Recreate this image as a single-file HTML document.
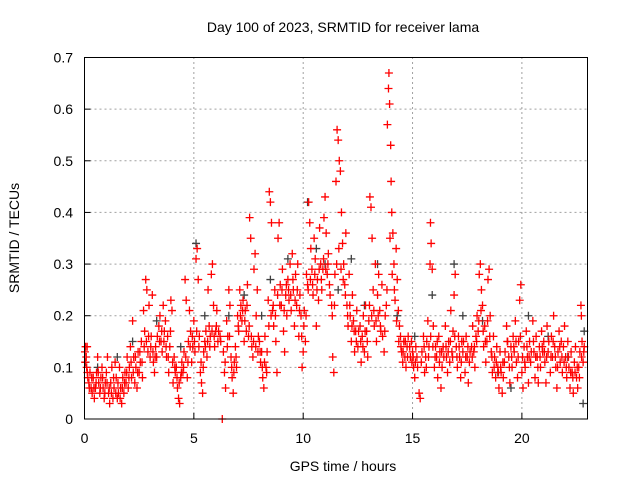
<!DOCTYPE html>
<html><head><meta charset="utf-8"><style>
body{margin:0;background:#fff;width:640px;height:480px;overflow:hidden}
svg{font-family:"Liberation Sans",sans-serif;font-size:14px}
</style></head><body>
<svg id="chart" width="640" height="480">
<text x="343" y="32" text-anchor="middle">Day 100 of 2023, SRMTID for receiver lama</text>
<text x="343" y="471" text-anchor="middle">GPS time / hours</text>
<text transform="translate(19,238) rotate(-90)" text-anchor="middle">SRMTID / TECUs</text>
<g id="grid"></g><g id="axes"></g><g id="marks"></g>
<rect x="84.5" y="57.5" width="503" height="361.5" fill="none" stroke="#000"/>
</svg>
<script>
const xTicks=[0,5,10,15,20];
const yTicks=[0,0.1,0.2,0.3,0.4,0.5,0.6,0.7];
const yTickLabels=["0","0.1","0.2","0.3","0.4","0.5","0.6","0.7"];
const redPts=[[0.02,.13],[0.05,.14],[0.08,.12],[0.1,.10],[0.12,.14],[0.15,.08],[0.2,.07],[0.25,.09],[0.3,.06],[0.35,.05],[0.4,.08],[0.45,.04],[0.5,.06],[0.55,.09],[0.6,.12],[0.65,.07],[0.7,.05],[0.75,.08],[0.8,.10],[0.85,.06],[0.9,.04],[0.95,.07],
[1.0,.09],[1.05,.12],[1.1,.05],[1.15,.03],[1.2,.07],[1.25,.10],[1.3,.04],[1.35,.06],[1.4,.11],[1.45,.08],[1.5,.04],[1.55,.05],[1.6,.10],[1.65,.06],[1.7,.03],[1.75,.08],[1.8,.05],[1.85,.09],[1.9,.07],[1.95,.12],
[2.0,.06],[2.05,.10],[2.1,.14],[2.15,.08],[2.2,.19],[2.25,.12],[2.3,.07],[2.35,.10],[2.4,.06],[2.45,.13],[2.5,.09],[2.55,.11],[2.6,.15],[2.65,.08],[2.7,.21],[2.75,.17],[2.8,.27],[2.85,.25],[2.9,.13],[2.95,.22],
[3.0,.12],[3.05,.16],[3.1,.24],[3.15,.11],[3.2,.09],[3.25,.14],[3.3,.12],[3.4,.18],[3.45,.20],[3.5,.15],[3.55,.13],[3.6,.22],[3.65,.17],[3.7,.19],[3.75,.12],[3.8,.16],[3.85,.09],[3.9,.14],[3.95,.23],
[4.0,.21],[4.05,.07],[4.1,.12],[4.15,.09],[4.2,.10],[4.25,.06],[4.3,.04],[4.35,.03],[4.4,.08],[4.45,.11],[4.5,.09],[4.55,.13],[4.6,.27],[4.65,.23],[4.7,.08],[4.75,.15],[4.8,.21],[4.85,.17],[4.9,.11],[4.95,.14],
[5.0,.19],[5.05,.13],[5.1,.31],[5.15,.33],[5.2,.27],[5.25,.16],[5.3,.09],[5.35,.07],[5.4,.05],[5.45,.13],[5.5,.15],[5.55,.17],[5.6,.12],[5.65,.25],[5.7,.18],[5.75,.16],[5.8,.28],[5.85,.30],[5.9,.22],[5.95,.14],
[6.0,.17],[6.05,.21],[6.1,.15],[6.2,.16],[6.3,.00],[6.35,.13],[6.4,.09],[6.45,.06],[6.5,.19],[6.55,.16],[6.6,.25],[6.65,.22],[6.7,.12],[6.75,.08],[6.8,.05],[6.85,.11],[6.9,.14],[6.95,.10],
[7.0,.20],[7.05,.17],[7.1,.25],[7.15,.22],[7.2,.19],[7.25,.23],[7.3,.15],[7.35,.21],[7.4,.17],[7.45,.26],[7.5,.16],[7.55,.39],[7.6,.35],[7.65,.14],[7.7,.12],[7.75,.29],[7.8,.32],[7.85,.20],[7.9,.25],[7.95,.16],
[8.0,.15],[8.05,.11],[8.1,.13],[8.15,.08],[8.2,.06],[8.25,.16],[8.3,.10],[8.35,.13],[8.4,.23],[8.45,.44],[8.5,.42],[8.55,.38],[8.6,.21],[8.65,.18],[8.7,.25],[8.75,.15],[8.8,.09],[8.85,.35],[8.9,.38],[8.95,.26],
[9.0,.22],[9.05,.29],[9.1,.17],[9.15,.13],[9.2,.24],[9.25,.20],[9.3,.27],[9.35,.23],[9.4,.30],[9.45,.21],[9.5,.32],[9.55,.25],[9.6,.18],[9.65,.28],[9.7,.22],[9.75,.30],[9.8,.16],[9.85,.24],[9.9,.20],[9.95,.10],
[10.0,.13],[10.05,.21],[10.1,.15],[10.15,.28],[10.2,.26],[10.25,.42],[10.3,.38],[10.35,.33],[10.4,.29],[10.45,.24],[10.5,.35],[10.55,.31],[10.6,.18],[10.65,.27],[10.7,.23],[10.75,.37],[10.8,.30],[10.85,.25],[10.9,.29],[10.95,.39],
[11.0,.43],[11.05,.36],[11.1,.28],[11.15,.32],[11.2,.26],[11.3,.22],[11.35,.12],[11.4,.09],[11.45,.28],[11.5,.46],[11.55,.56],[11.6,.54],[11.65,.50],[11.7,.48],[11.75,.40],[11.8,.34],[11.85,.30],[11.9,.26],[11.95,.36],
[12.0,.22],[12.05,.18],[12.1,.28],[12.15,.20],[12.2,.15],[12.25,.24],[12.3,.19],[12.35,.13],[12.4,.17],[12.45,.21],[12.5,.14],[12.6,.18],[12.65,.11],[12.7,.16],[12.75,.20],[12.8,.13],[12.85,.22],[12.9,.17],[12.95,.12],
[13.0,.19],[13.05,.43],[13.1,.41],[13.15,.35],[13.2,.25],[13.25,.18],[13.3,.30],[13.35,.15],[13.4,.24],[13.45,.28],[13.5,.21],[13.55,.17],[13.6,.26],[13.7,.13],[13.75,.20],[13.8,.22],[13.85,.57],[13.9,.64],[13.92,.67],[13.95,.61],
[14.0,.53],[14.02,.46],[14.05,.40],[14.1,.36],[14.15,.30],[14.2,.23],[14.25,.33],[14.3,.27],[14.35,.21],[14.4,.18],[14.45,.16],[14.5,.13],[14.55,.11],[14.6,.15],[14.65,.12],[14.7,.10],[14.75,.14],[14.8,.16],[14.9,.12],[14.95,.15],
[15.0,.13],[15.05,.10],[15.1,.08],[15.15,.14],[15.2,.12],[15.3,.05],[15.35,.04],[15.4,.11],[15.5,.16],[15.55,.09],[15.6,.12],[15.65,.15],[15.7,.19],[15.75,.14],[15.8,.30],[15.82,.38],[15.85,.34],[15.9,.29],[15.95,.18],
[16.0,.10],[16.05,.14],[16.1,.12],[16.15,.08],[16.2,.16],[16.25,.13],[16.3,.06],[16.35,.10],[16.4,.14],[16.5,.18],[16.55,.12],[16.6,.09],[16.65,.15],[16.7,.11],[16.75,.21],[16.8,.13],[16.85,.17],[16.9,.24],[16.95,.28],
[17.0,.14],[17.05,.10],[17.1,.16],[17.15,.12],[17.2,.08],[17.25,.15],[17.3,.13],[17.4,.09],[17.45,.16],[17.5,.12],[17.55,.07],[17.6,.11],[17.7,.14],[17.75,.18],[17.8,.13],[17.85,.10],[17.9,.16],[17.95,.20],
[18.0,.17],[18.05,.28],[18.1,.30],[18.15,.25],[18.2,.22],[18.25,.14],[18.3,.18],[18.35,.11],[18.4,.15],[18.45,.27],[18.5,.29],[18.55,.20],[18.6,.13],[18.65,.09],[18.7,.16],[18.75,.12],[18.8,.08],[18.85,.14],[18.9,.10],[18.95,.06],
[19.0,.13],[19.05,.09],[19.1,.05],[19.15,.08],[19.2,.11],[19.3,.18],[19.35,.15],[19.4,.12],[19.45,.07],[19.5,.14],[19.55,.10],[19.6,.16],[19.65,.13],[19.7,.19],[19.75,.11],[19.8,.08],[19.85,.15],[19.9,.23],[19.95,.26],
[20.0,.09],[20.05,.06],[20.1,.14],[20.15,.10],[20.2,.17],[20.25,.12],[20.3,.07],[20.35,.15],[20.4,.11],[20.5,.19],[20.55,.13],[20.6,.08],[20.65,.16],[20.7,.12],[20.75,.07],[20.8,.14],[20.85,.10],[20.9,.17],[20.95,.13],
[21.0,.15],[21.05,.11],[21.1,.07],[21.15,.18],[21.2,.13],[21.3,.09],[21.35,.16],[21.4,.12],[21.45,.20],[21.5,.14],[21.55,.10],[21.6,.06],[21.65,.13],[21.7,.17],[21.75,.11],[21.8,.15],[21.85,.09],[21.9,.14],[21.95,.18],
[22.0,.12],[22.05,.08],[22.1,.15],[22.15,.10],[22.2,.06],[22.25,.13],[22.3,.09],[22.35,.05],[22.4,.11],[22.45,.14],[22.5,.08],[22.55,.06],[22.6,.10],[22.65,.13],[22.7,.22],[22.72,.20],[22.75,.15],[22.8,.11],[22.85,.14]];
const redPts2=[[0.03,.11],[0.13,.09],[0.22,.06],[0.33,.08],[0.43,.06],[0.53,.07],[0.63,.09],[0.73,.06],[0.83,.08],[0.93,.05],
[1.03,.07],[1.13,.06],[1.23,.05],[1.33,.08],[1.43,.05],[1.53,.07],[1.63,.04],[1.73,.06],[1.83,.07],[1.93,.09],
[2.03,.08],[2.13,.11],[2.23,.09],[2.33,.12],[2.43,.09],[2.53,.13],[2.63,.11],[2.73,.14],[2.83,.15],[2.93,.16],
[3.03,.14],[3.13,.13],[3.23,.12],[3.33,.16],[3.43,.15],[3.53,.17],[3.63,.15],[3.73,.14],[3.83,.12],[3.93,.17],
[4.03,.11],[4.13,.10],[4.23,.08],[4.33,.07],[4.43,.09],[4.53,.10],[4.63,.12],[4.73,.11],[4.83,.14],[4.93,.16],
[5.03,.15],[5.13,.17],[5.23,.14],[5.33,.11],[5.43,.10],[5.53,.14],[5.63,.15],[5.73,.14],[5.83,.17],[5.93,.16],
[6.03,.18],[6.13,.17],[6.23,.15],[6.43,.11],[6.53,.14],[6.63,.16],[6.73,.10],[6.83,.09],[6.93,.12],
[7.03,.18],[7.13,.20],[7.23,.21],[7.33,.19],[7.43,.22],[7.53,.18],[7.63,.16],[7.73,.15],[7.83,.14],[7.93,.13],
[8.03,.13],[8.13,.10],[8.23,.11],[8.33,.09],[8.43,.18],[8.53,.20],[8.63,.22],[8.73,.20],[8.83,.24],[8.93,.22],
[9.03,.25],[9.13,.21],[9.23,.26],[9.33,.25],[9.43,.24],[9.53,.27],[9.63,.23],[9.73,.25],[9.83,.21],[9.93,.16],
[10.03,.18],[10.13,.20],[10.23,.25],[10.33,.27],[10.43,.26],[10.53,.28],[10.63,.25],[10.73,.29],[10.83,.27],[10.93,.31],
[11.03,.29],[11.13,.30],[11.23,.24],[11.33,.20],[11.43,.22],[11.53,.30],[11.63,.33],[11.73,.29],[11.83,.27],[11.93,.24],
[12.03,.20],[12.13,.22],[12.23,.18],[12.33,.17],[12.43,.15],[12.53,.17],[12.63,.15],[12.73,.14],[12.83,.17],[12.93,.15],
[13.03,.22],[13.13,.20],[13.23,.21],[13.33,.19],[13.43,.20],[13.53,.18],[13.63,.16],[13.73,.17],[13.83,.25],[13.97,.35],
[14.07,.28],[14.17,.25],[14.27,.19],[14.37,.15],[14.47,.14],[14.57,.13],[14.67,.15],[14.77,.12],[14.87,.14],[14.97,.11],
[15.03,.12],[15.13,.11],[15.23,.10],[15.43,.13],[15.53,.14],[15.63,.10],[15.73,.12],[15.83,.16],[15.93,.14],
[16.03,.12],[16.13,.15],[16.23,.11],[16.33,.13],[16.43,.12],[16.53,.14],[16.63,.13],[16.73,.15],[16.83,.12],[16.93,.16],
[17.03,.12],[17.13,.14],[17.23,.11],[17.33,.15],[17.43,.12],[17.53,.14],[17.63,.13],[17.73,.12],[17.83,.14],[17.93,.15],
[18.03,.19],[18.13,.21],[18.23,.17],[18.33,.15],[18.43,.19],[18.53,.16],[18.63,.12],[18.73,.10],[18.83,.11],[18.93,.09],
[19.03,.10],[19.13,.11],[19.23,.13],[19.33,.15],[19.43,.10],[19.53,.12],[19.63,.14],[19.73,.15],[19.83,.12],[19.93,.16],
[20.03,.12],[20.13,.11],[20.23,.14],[20.33,.12],[20.43,.13],[20.53,.15],[20.63,.12],[20.73,.10],[20.83,.12],[20.93,.14],
[21.03,.13],[21.13,.12],[21.23,.15],[21.33,.12],[21.43,.15],[21.53,.12],[21.63,.10],[21.73,.14],[21.83,.12],[21.93,.11],
[22.03,.10],[22.13,.12],[22.23,.09],[22.33,.08],[22.43,.09],[22.53,.10],[22.63,.08],[22.73,.12],[22.83,.13]];
const darkPts=[[0.05,.11],[0.6,.10],[1.5,.12],[2.2,.15],[3.3,.19],[4.4,.14],[5.1,.34],[5.5,.20],[6.6,.20],[7.3,.24],[8.1,.20],[8.5,.27],[9.3,.31],[10.2,.42],[10.6,.33],[11.0,.30],[11.6,.25],[12.2,.31],[12.8,.22],[13.4,.30],[14.3,.20],[15.1,.16],[15.9,.24],[16.9,.30],[17.3,.20],[18.2,.19],[18.9,.09],[19.5,.06],[20.3,.20],[21.2,.16],[22.1,.12],[22.8,.03],[22.85,.17]];
const NS="http://www.w3.org/2000/svg";
const X0=84.5,X1=587.5,Y0=419,Y1=57.5,XMAX=23,YMAX=0.7;
const sx=v=>X0+v/XMAX*(X1-X0), sy=v=>Y0-v/YMAX*(Y0-Y1);
function mk(tag,at,parent){const e=document.createElementNS(NS,tag);for(const k in at)e.setAttribute(k,at[k]);parent.appendChild(e);return e;}
const grid=document.getElementById('grid'),axes=document.getElementById('axes'),marks=document.getElementById('marks');
xTicks.forEach(t=>{const x=sx(t);
 if(t>0){const g=mk('line',{x1:x,x2:x,y1:Y0,y2:Y1,stroke:'#a0a0a0','stroke-dasharray':'2,3'},grid);
 
 }
 const tk=mk('line',{x1:x,x2:x,y1:Y0,y2:Y0-6,stroke:'#000'},axes);
 
 
 const lb=mk('text',{x:x,y:443,'text-anchor':'middle'},axes);lb.textContent=t;
 
 });
yTicks.forEach((t,i)=>{const y=sy(t);
 if(t>0){const g=mk('line',{x1:X0,x2:X1,y1:y,y2:y,stroke:'#a0a0a0','stroke-dasharray':'2,3'},grid);
 
 }
 const tk=mk('line',{x1:X0,x2:X0+6,y1:y,y2:y,stroke:'#000'},axes);
 
 
 const lb=mk('text',{x:73,y:y+5,'text-anchor':'end'},axes);lb.textContent=yTickLabels[i];
 
 });
function plus(p,col,name){const x=sx(p[0]),y=sy(p[1]);
 const e=mk('path',{d:`M${x-4},${y}h8M${x},${y-4}v8`,stroke:col,'stroke-width':1.3,fill:'none'},marks);
 
 }
darkPts.forEach(p=>plus(p,'#404040','dark-point'));
redPts2.forEach(p=>plus(p,'#ff0000','red-point'));
redPts.forEach(p=>plus(p,'#ff0000','red-point'));
</script>
</body></html>
